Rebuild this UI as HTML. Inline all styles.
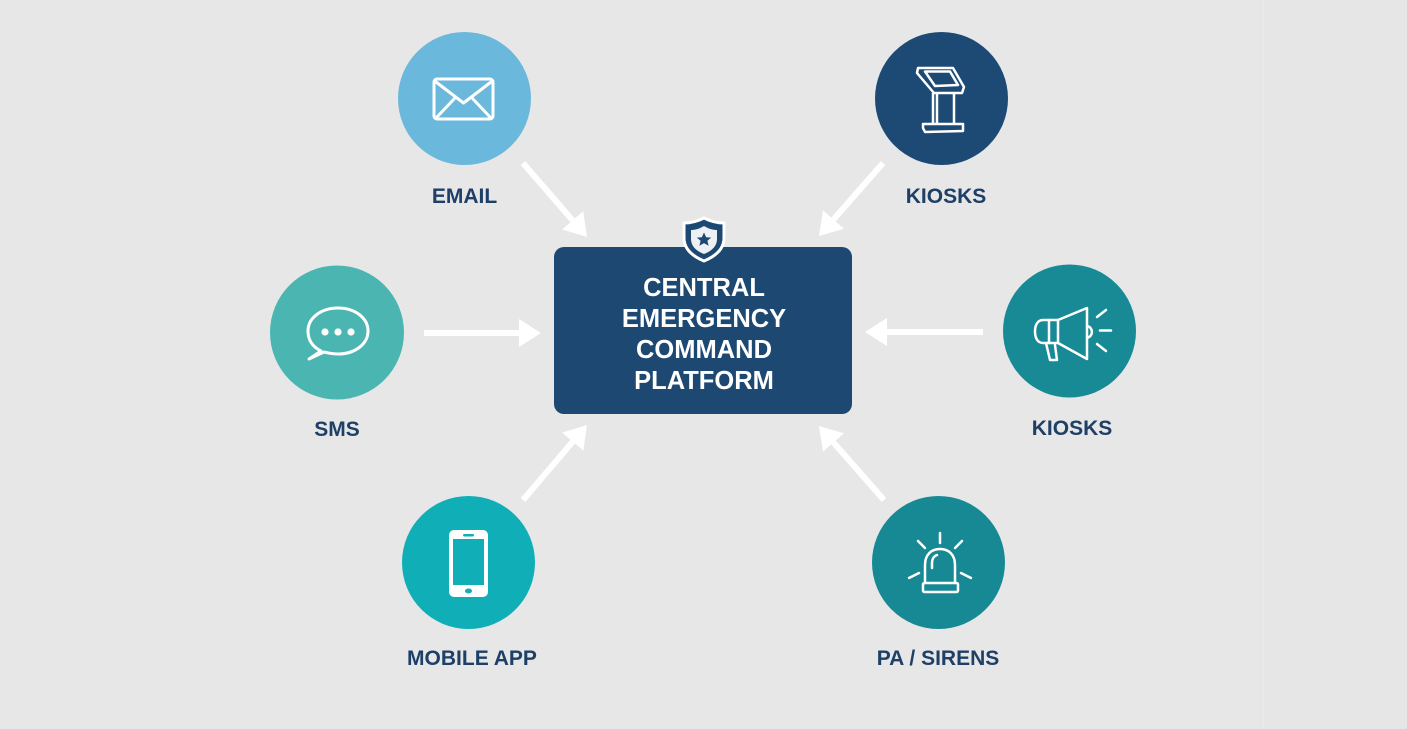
<!DOCTYPE html>
<html><head><meta charset="utf-8"><style>
html,body{margin:0;padding:0;background:#e7e7e7;}
svg{display:block;}
text{font-family:"Liberation Sans",Arial,sans-serif;font-weight:bold;}
</style></head><body>
<svg width="1407" height="729" viewBox="0 0 1407 729" xmlns="http://www.w3.org/2000/svg">
<defs>
<marker id="ah" markerUnits="userSpaceOnUse" markerWidth="24" markerHeight="30" viewBox="0 -15 24 30" refX="0" refY="0" orient="auto">
<path d="M0,-14 L22,0 L0,14 Z" fill="#ffffff"/>
</marker>
</defs>
<rect width="1407" height="729" fill="#e7e7e7"/>
<rect x="1263" y="0" width="144" height="729" fill="#e6e6e6"/>
<line x1="1263.5" y1="0" x2="1263.5" y2="729" stroke="#ececec" stroke-width="1"/>

<!-- arrows -->
<g stroke="#ffffff" stroke-width="6" fill="none">
<line x1="523" y1="163" x2="572.6" y2="220.3" marker-end="url(#ah)"/>
<line x1="883" y1="163" x2="833.5" y2="219.5" marker-end="url(#ah)"/>
<line x1="424" y1="333" x2="519" y2="333" marker-end="url(#ah)"/>
<line x1="983" y1="332" x2="887" y2="332" marker-end="url(#ah)"/>
<line x1="523" y1="500" x2="572.7" y2="441.7" marker-end="url(#ah)"/>
<line x1="884" y1="500" x2="833.5" y2="442.5" marker-end="url(#ah)"/>
</g>

<!-- central box -->
<rect x="554" y="247" width="298" height="167" rx="10" fill="#1d4872"/>
<g fill="#ffffff" font-size="25.5" text-anchor="middle">
<text x="704" y="296">CENTRAL</text>
<text x="704" y="327">EMERGENCY</text>
<text x="704" y="358">COMMAND</text>
<text x="704" y="389">PLATFORM</text>
</g>

<!-- shield -->
<path d="M704,218 C712,222 718,223 724,223 L724,238 C724,249 716,256 704,261 C692,256 684,249 684,238 L684,223 C690,223 696,222 704,218 Z" fill="#1d4872" stroke="#ffffff" stroke-width="3" stroke-linejoin="round"/>
<path d="M704,226 C709,229 713,230 717,230 L717,239 C717,246 712,251 704,254 C696,251 691,246 691,239 L691,230 C695,230 699,229 704,226 Z" fill="#eef1f4"/>
<path d="M704,232.5 L706.2,237.2 L711.2,237.6 L707.4,240.8 L708.6,245.8 L704,243.1 L699.4,245.8 L700.6,240.8 L696.8,237.6 L701.8,237.2 Z" fill="#1d4872"/>

<!-- circles -->
<circle cx="464.5" cy="98.5" r="66.5" fill="#6bb8dd"/>
<circle cx="941.5" cy="98.5" r="66.5" fill="#1d4a75"/>
<circle cx="337" cy="332.5" r="67" fill="#4bb5b1"/>
<circle cx="1069.5" cy="331" r="66.5" fill="#178a96"/>
<circle cx="468.5" cy="562.5" r="66.5" fill="#10aeb7"/>
<circle cx="938.5" cy="562.5" r="66.5" fill="#178994"/>

<!-- envelope -->
<g stroke="#ffffff" stroke-width="3" fill="none" stroke-linejoin="round" stroke-linecap="round">
<rect x="434" y="79" width="59" height="40" rx="3"/>
<path d="M436,82 L463.5,103 L491,82"/>
<path d="M437,117 L454,99"/>
<path d="M490,117 L473,99"/>
</g>

<!-- kiosk -->
<g stroke="#ffffff" stroke-width="2.5" fill="none" stroke-linejoin="round">
<path d="M918,68 L953,68 L964,87 L962,93 L934,93 L917,73 Z"/>
<path d="M925,71.5 L950,71.5 L958,85 L935,86 Z"/>
<path d="M933,93 L933,124 M954,93 L954,124 M937,93 L937,124"/>
<path d="M923,124 L963,124 L963,131 L925,132 L923,128 Z"/>
</g>

<!-- sms bubble -->
<g stroke="#ffffff" stroke-width="3" fill="none" stroke-linejoin="round">
<path d="M321,351 C311,346 308,339 308,331 C308,318 321,308 338,308 C355,308 368,318 368,331 C368,344 355,354 338,354 C333,354 328,353 324,352 L309,359 Z"/>
</g>
<g fill="#ffffff">
<circle cx="325" cy="332" r="3.6"/>
<circle cx="338" cy="332" r="3.6"/>
<circle cx="351" cy="332" r="3.6"/>
</g>

<!-- megaphone -->
<g stroke="#ffffff" stroke-width="2.5" fill="none" stroke-linejoin="round" stroke-linecap="round">
<path d="M1043,320 L1058,320 L1058,343 L1043,343 C1037,343 1035,337 1035,331.5 C1035,326 1037,320 1043,320 Z"/>
<path d="M1049,320 L1049,343"/>
<path d="M1058,320 L1087,308 L1087,359 L1058,343"/>
<path d="M1087,326 C1093,327 1094,336 1087,338"/>
<path d="M1046,343 L1050,360 L1057,360 L1055,345"/>
<path d="M1097,317 L1106,310"/>
<path d="M1100,330.5 L1111,330.5"/>
<path d="M1097,344 L1106,351"/>
</g>

<!-- phone -->
<rect x="449" y="530" width="39" height="67" rx="5" fill="#ffffff"/>
<rect x="453" y="539" width="31" height="46" fill="#10aeb7"/>
<rect x="463" y="534" width="11" height="2.5" rx="1.2" fill="#10aeb7"/>
<ellipse cx="468.5" cy="591" rx="3.5" ry="2.5" fill="#10aeb7"/>

<!-- siren -->
<g stroke="#ffffff" stroke-width="2.5" fill="none" stroke-linejoin="round" stroke-linecap="round">
<path d="M925,583 L925,565 C925,555 931,549 940,549 C949,549 955,555 955,565 L955,583"/>
<rect x="923" y="583" width="35" height="9" rx="1.5"/>
<path d="M932,568 L932,563 C932,559 934,556 937,555"/>
<path d="M940,533 L940,543"/>
<path d="M918,541 L925,548"/>
<path d="M962,541 L955,548"/>
<path d="M909,578 L919,573"/>
<path d="M961,573 L971,578"/>
</g>

<!-- labels -->
<g fill="#1e3f66" font-size="21" text-anchor="middle">
<text x="464.5" y="203">EMAIL</text>
<text x="946" y="203">KIOSKS</text>
<text x="337" y="436">SMS</text>
<text x="1072" y="435">KIOSKS</text>
<text x="472" y="665">MOBILE APP</text>
<text x="938" y="665">PA / SIRENS</text>
</g>
</svg>
</body></html>
